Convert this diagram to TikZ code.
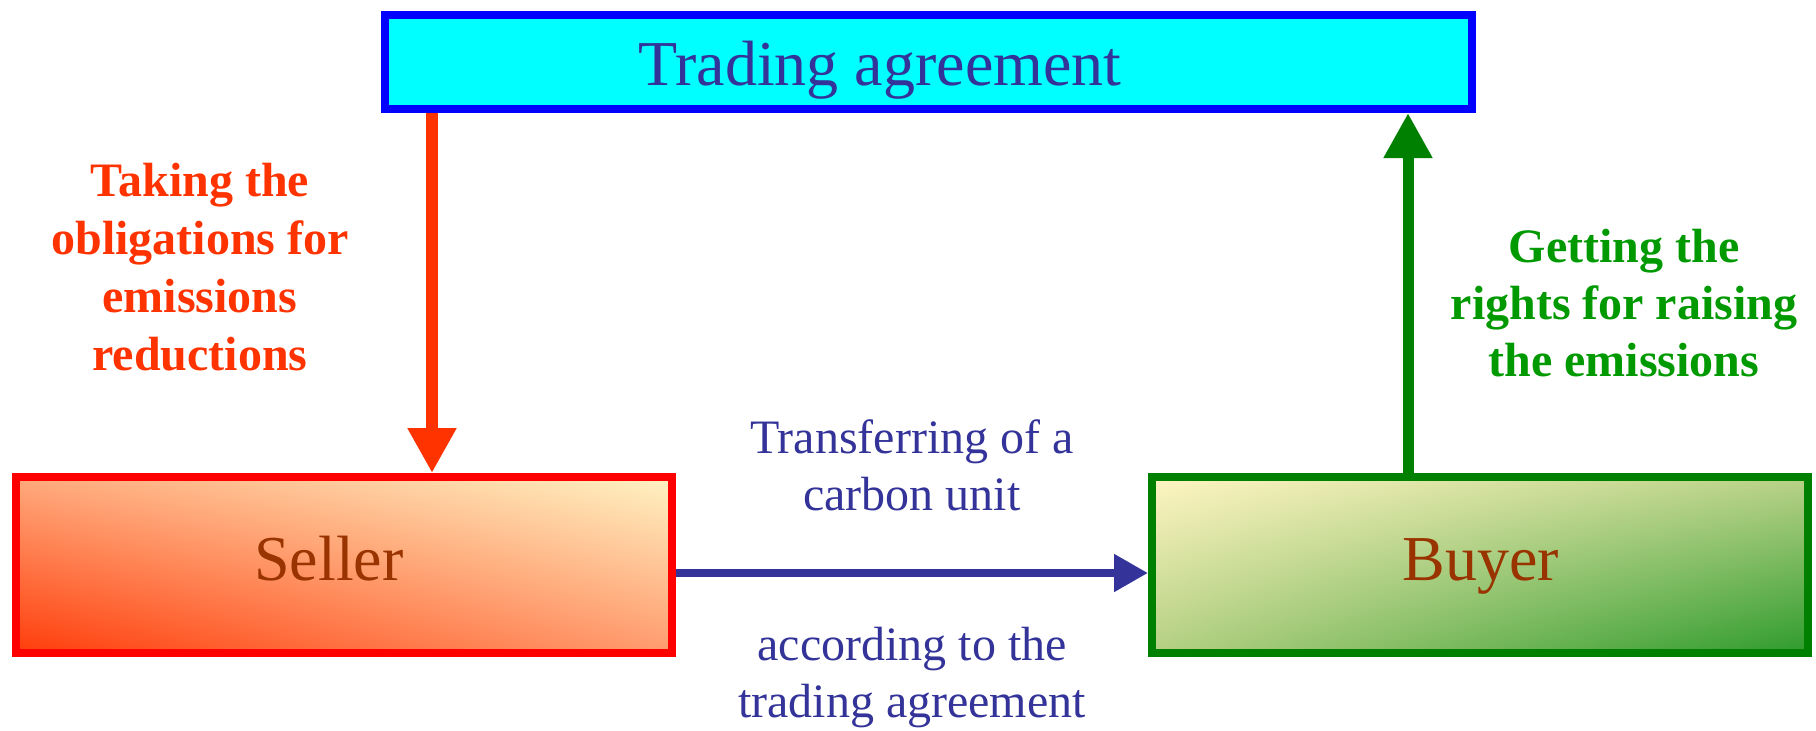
\documentclass[tikz,border=0pt]{standalone}
\usepackage{fontspec}
\setmainfont{Liberation Serif}
\usetikzlibrary{arrows.meta,shadings}
\definecolor{tradefill}{HTML}{00FFFF}
\definecolor{tradeborder}{HTML}{0000FF}
\definecolor{navy}{HTML}{333399}
\definecolor{brownish}{HTML}{993300}
\definecolor{redarr}{HTML}{FF3300}
\definecolor{greenarr}{HTML}{008000}
\definecolor{greentext}{HTML}{009900}
\definecolor{sellred}{HTML}{FF0000}
\definecolor{sellul}{RGB}{255,170,125}
\definecolor{sellll}{RGB}{255,60,10}
\definecolor{sellur}{RGB}{255,243,195}
\definecolor{selllr}{RGB}{255,155,110}
\definecolor{buyul}{RGB}{255,245,195}
\definecolor{buylr}{RGB}{45,155,45}
\definecolor{buyur}{RGB}{185,210,135}
\definecolor{buyll}{RGB}{180,208,130}
\tikzset{
  boxbase/.style={rectangle, line width=8pt, inner sep=0pt},
  tradebox/.style={boxbase, draw=tradeborder, fill=tradefill, minimum width=1087pt, minimum height=94pt},
  sellerbox/.style={boxbase, draw=sellred, minimum width=656pt, minimum height=176pt,
    shade, lower left=sellll, upper right=sellur, upper left=sellul, lower right=selllr},
  buyerbox/.style={boxbase, draw=greenarr, minimum width=656pt, minimum height=176pt,
    shade, upper left=buyul, lower right=buylr, upper right=buyur, lower left=buyll},
  bigtext/.style={font=\fontsize{64}{77}\selectfont, inner sep=0pt, anchor=base},
  lbltext/.style={font=\fontsize{48}{57.5}\selectfont, inner sep=0pt, anchor=base, align=center},
  redarrow/.style={draw=redarr, line width=12pt, -{Triangle[length=45pt,width=46pt]}},
  greenarrow/.style={draw=greenarr, line width=11pt, -{Triangle[length=45pt,width=46pt]}},
  bluearrow/.style={draw=navy, line width=8pt, -{Triangle[length=34pt,width=36pt]}},
}
\begin{document}
\begin{tikzpicture}[x=1pt, y=-1pt]
\useasboundingbox (0,0) rectangle (1816,731);
% boxes
\node[tradebox] (trading) at (928.5,62) {};
\node[sellerbox] (seller) at (344,565) {};
\node[buyerbox] (buyer) at (1480,565) {};
% box texts
\node[bigtext, text=navy] (tradingtext) at (880,85) {Trading agreement};
\node[bigtext, text=brownish] (sellertext) at (329,580) {Seller};
\node[bigtext, text=brownish] (buyertext) at (1481,580) {Buyer};
% arrow positions
\coordinate (rx) at (432,0);
\coordinate (gx) at (1408,0);
\coordinate (by) at (0,573);
\draw[redarrow] (rx |- trading.south) -- (rx |- seller.north);
\draw[greenarrow] (gx |- buyer.north) -- (gx |- trading.south);
\draw[bluearrow] (seller.east |- by) -- (buyer.west |- by);
% labels (base anchor = baseline of last line)
\node[lbltext, text=redarr, font=\fontsize{48}{57.7}\selectfont\bfseries] (redlbl) at (200,370)
  {Taking the\\obligations for\\emissions\\reductions};
\node[lbltext, text=greentext, font=\fontsize{48}{57}\selectfont\bfseries] (greenlbl) at (1624,376)
  {Getting the\\rights for raising\\the emissions};
\node[lbltext, text=navy, font=\fontsize{48}{57}\selectfont] (toplbl) at (912,510) {Transferring of a\\carbon unit};
\node[lbltext, text=navy, font=\fontsize{48}{57}\selectfont] (botlbl) at (912,717) {according to the\\trading agreement};
\end{tikzpicture}
\end{document}
